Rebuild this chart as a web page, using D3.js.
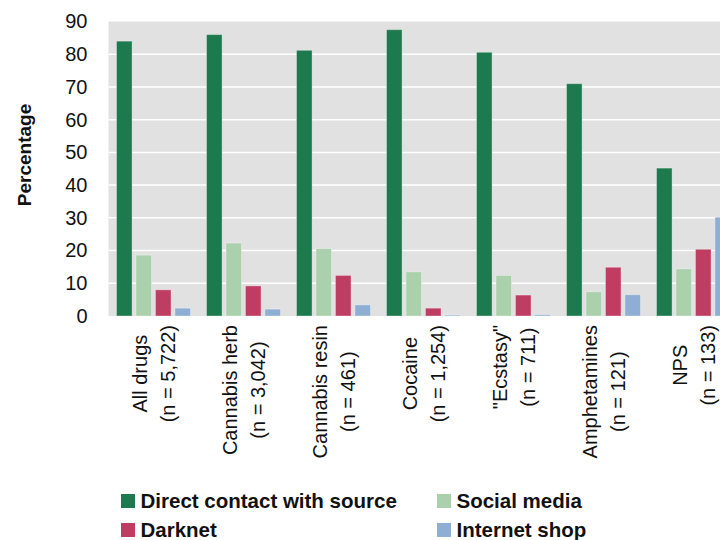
<!DOCTYPE html>
<html>
<head>
<meta charset="utf-8">
<script src="https://cdn.jsdelivr.net/npm/d3@7"></script>
<style>
  body { margin: 0; background: #fff; }
  svg { display: block; font-family: "Liberation Sans", Arial, sans-serif; }
</style>
</head>
<body>
<svg id="chart"></svg>
<script>
'use strict';

var categories = ['All drugs', 'Cannabis herb', 'Cannabis resin', 'Cocaine', '"Ecstasy"', 'Amphetamines', 'NPS'];
var sampleSizes = ['(n = 5,722)', '(n = 3,042)', '(n = 461)', '(n = 1,254)', '(n = 711)', '(n = 121)', '(n = 133)'];
var seriesNames = ['Direct contact with source', 'Social media', 'Darknet', 'Internet shop'];
var seriesColors = ['#1d7a4e', '#abd0ac', '#bf3d62', '#8eaed3'];

var directContact = [84.0, 86.0, 81.2, 87.5, 80.6, 71.0, 45.2];
var socialMedia = [18.6, 22.3, 20.6, 13.5, 12.4, 7.4, 14.4];
var darknet = [8.0, 9.2, 12.4, 2.4, 6.4, 14.9, 20.4];
var internetShop = [2.4, 2.1, 3.4, 0.3, 0.4, 6.5, 30.2];

var yTicks = [0, 10, 20, 30, 40, 50, 60, 70, 80, 90];

var series = [directContact, socialMedia, darknet, internetShop];

var width = 720;
var height = 540;

var svg = d3.select('#chart')
  .attr('width', width)
  .attr('height', height);

// plot runs past the right edge of the picture, like the reference
var plotLeft = 108.5, plotRight = 738.5;
var plotTop = 21.5, plotBottom = 316;

var x0 = d3.scaleBand().domain(d3.range(categories.length)).range([plotLeft, plotRight]);
var x1 = d3.scaleBand().domain(d3.range(series.length)).range([8, 82]).paddingInner(0.2);
var y = d3.scaleLinear().domain([0, 90]).range([plotBottom, plotTop]);

svg.append('rect')
  .attr('x', plotLeft)
  .attr('y', plotTop)
  .attr('width', plotRight - plotLeft)
  .attr('height', plotBottom - plotTop)
  .attr('fill', '#e1e1e1');

svg.append('g')
  .selectAll('line')
  .data(yTicks.slice(1, -1))
  .join('line')
  .attr('x1', plotLeft)
  .attr('x2', plotRight)
  .attr('y1', function(d) { return y(d); })
  .attr('y2', function(d) { return y(d); })
  .attr('stroke', '#fff')
  .attr('stroke-width', 1.5);

var yAxis = svg.append('g')
  .attr('transform', 'translate(' + (plotLeft - 20) + ',0)')
  .call(d3.axisLeft(y).tickValues(yTicks).tickSize(0).tickPadding(0));
yAxis.select('.domain').remove();
yAxis.selectAll('text')
  .attr('font-size', 20)
  .attr('fill', '#111')
  .attr('font-family', '"Liberation Sans", Arial, sans-serif')
  .attr('dx', '-1');

svg.append('text')
  .attr('transform', 'translate(31,155) rotate(-90)')
  .attr('text-anchor', 'middle')
  .attr('font-size', 19)
  .attr('font-weight', 'bold')
  .attr('fill', '#111')
  .text('Percentage');

var groups = svg.append('g')
  .selectAll('g')
  .data(categories)
  .join('g')
  .attr('transform', function(d, i) { return 'translate(' + x0(i) + ',0)'; });

groups.selectAll('rect')
  .data(function(d, i) { return series.map(function(s) { return s[i]; }); })
  .join('rect')
  .attr('x', function(d, j) { return x1(j); })
  .attr('y', function(d) { return y(d); })
  .attr('width', x1.bandwidth())
  .attr('height', function(d) { return plotBottom - y(d); })
  .attr('fill', function(d, j) { return seriesColors[j]; })
  .attr('stroke', 'rgba(255,255,255,0.35)')
  .attr('stroke-width', 1);

// rotated two-line category labels, block hangs from just below the axis
var labelTop = 325;
var labelFont = 20;
var lineGap = 28;
categories.forEach(function(cat, i) {
  var g = svg.append('g');
  var lines = [cat, sampleSizes[i]];
  var texts = lines.map(function(s) {
    return g.append('text')
      .attr('font-size', labelFont)
      .attr('fill', '#111')
      .attr('text-anchor', 'middle')
      .text(s);
  });
  var maxLen = d3.max(texts, function(t) { return t.node().getComputedTextLength(); });
  var cx = x0(i) + x0.bandwidth() / 2;
  var cy = labelTop + maxLen / 2;
  texts.forEach(function(t, k) {
    var lx = cx + (k - 0.5) * lineGap + 7;
    t.attr('transform', 'translate(' + lx + ',' + cy + ') rotate(-90)');
  });
});

// legend
var legendPos = [[121, 494], [437, 494], [121, 523], [437, 523]];
var legend = svg.append('g')
  .selectAll('g')
  .data(seriesNames)
  .join('g')
  .attr('transform', function(d, i) { return 'translate(' + legendPos[i][0] + ',' + legendPos[i][1] + ')'; });

legend.append('rect')
  .attr('width', 14)
  .attr('height', 14)
  .attr('fill', function(d, i) { return seriesColors[i]; });

legend.append('text')
  .attr('x', 19.5)
  .attr('y', 14)
  .attr('font-size', 20.5)
  .attr('font-weight', 'bold')
  .attr('fill', '#111')
  .text(function(d) { return d; });
</script>
</body>
</html>
